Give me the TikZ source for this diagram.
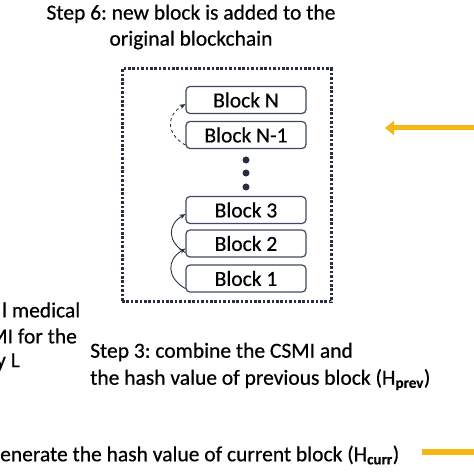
\documentclass[tikz,border=0pt]{standalone}
\usepackage{fontspec}
\setmainfont{Carlito}[FakeBold=0.5]
\usetikzlibrary{arrows.meta}
\definecolor{arrowgold}{RGB}{245,183,20}
\definecolor{blockline}{RGB}{62,72,94}
\definecolor{chainline}{RGB}{45,50,64}
\definecolor{boxline}{RGB}{40,46,66}
\frenchspacing

\begin{document}
\begin{tikzpicture}[x=1pt,y=1pt,font=\fontsize{21.5}{26}\selectfont,
    block/.style={draw=blockline,line width=1.2pt,rounded corners=4pt,minimum width=120pt,minimum height=27pt,inner sep=0pt},
    link/.style={draw=chainline,line width=0.9pt,-{Stealth[length=6pt,width=5pt]}},
    goldline/.style={draw=arrowgold,line width=5pt}]

        \useasboundingbox (0,0) rectangle (474,474);
        \clip (0,0) rectangle (474,474);

        \node (title) [align=center] at (191,447) {Step 6: new block is added to the\\original blockchain};

        \node (chain) [draw=boxline,line width=3pt,dash pattern=on 2.6pt off 1.8pt,minimum width=209pt,minimum height=233pt] at (226.5,288.5) {};

        \begin{scope}[every node/.style={block}]
          \node (bN)  at (246,374)   {Block N};
          \node (bN1) at (246,339)   {Block N-1};
          \node (b3)  at (246,264)   {Block 3};
          \node (b2)  at (246,230.5) {Block 2};
          \node (b1)  at (246,195.5) {Block 1};
        \end{scope}

        \begin{scope}[every node/.style={circle,fill=boxline,inner sep=0pt,minimum size=7pt}]
          \node (d1) at (246,314) {};
          \node (d2) at (246,301) {};
          \node (d3) at (246,287) {};
        \end{scope}

        \begin{scope}[every edge/.style={link}]
          \path ([yshift=4pt]bN1.south west) edge[dashed,out=150,in=210,looseness=1.4] ([yshift=10pt]bN.south west);
          \path ([yshift=5pt]b2.south west)  edge[out=150,in=210,looseness=1.4] ([yshift=10pt]b3.south west);
          \path ([yshift=4pt]b1.south west)  edge[out=150,in=210,looseness=1.4] ([yshift=9pt]b2.south west);
        \end{scope}

        \begin{scope}[every node/.style={anchor=west,inner sep=0pt}]
          \node (med)  at (2,164)   {l medical};
          \node (csmi) at (-11,138) {MI for the};
          \node (byl)  at (-4,112)  {y L};
          \node (step3) [align=left,font=\fontsize{21.5}{27}\selectfont] at (90,107.5) {Step 3: combine the CSMI and\\the hash value of previous block (H\textsubscript{\textbf{prev}})};
          \node (step4) at (0,19) {enerate the hash value of current block (H\textsubscript{\textbf{curr}})};
        \end{scope}

        \coordinate (goldtop) at (480,346);
        \coordinate (goldhead) at (385,346);
        \coordinate (goldlow) at (422,22);
        \coordinate (goldout) at (480,22);
        \draw[goldline,-{Triangle[length=9pt,width=14pt]}] (goldtop) -- (goldhead);
        \draw[goldline,line width=6pt] (goldlow) -- (goldout);

      \end{tikzpicture}
\end{document}
